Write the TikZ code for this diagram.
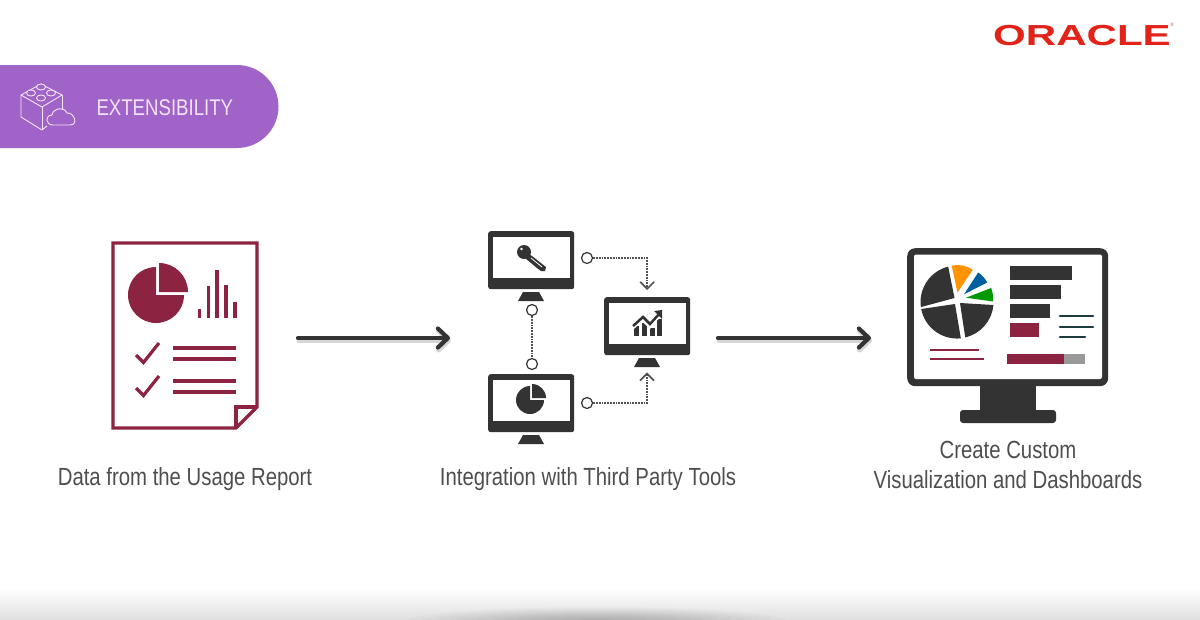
\documentclass[tikz,border=0pt]{standalone}
\usepackage{fontspec}
\usetikzlibrary{arrows.meta, positioning}
\setmainfont[FakeStretch=0.82]{Liberation Sans}
\newfontfamily\logofont[FakeStretch=1.45]{Liberation Sans}
\definecolor{wine}{RGB}{140,35,65}
\definecolor{ink}{RGB}{51,51,51}
\definecolor{caption}{RGB}{78,78,78}
\definecolor{purplebar}{RGB}{160,100,200}
\definecolor{purpletext}{RGB}{243,226,248}
\definecolor{oraclered}{RGB}{226,35,26}
\definecolor{deepteal}{RGB}{28,60,62}
\tikzset{
    label text/.style={text=caption, font=\fontsize{24.8}{30}\selectfont, align=center},
    wine line/.style={draw=wine, line width=3.2pt},
    wine bar/.style={draw=wine, line width=3.5pt},
    teal line/.style={draw=deepteal, line width=2.8pt, line cap=round},
    small dot/.style={circle, draw=ink, fill=white, line width=1.2pt, minimum size=11pt, inner sep=0pt},
    dot link/.style={draw=ink!85, line width=1.8pt, densely dotted},
    dot arrow/.style={dot link, -{Straight Barb[length=7pt, width=14pt, line width=1.7pt]}},
    big arrow/.style={draw=ink, line width=4.2pt, line cap=round, -{Straight Barb[length=10pt, width=19pt, line width=4.2pt, round]}},
    arrow shade/.style={draw=black!16, line width=5pt, line cap=round, -{Straight Barb[length=10pt, width=19pt, line width=5pt, round]}},
    pc body/.style={fill=ink, rounded corners=2.5pt},
}
\begin{document}
\begin{tikzpicture}[x=1pt, y=-1pt]
    \useasboundingbox (0,0) rectangle (1200,619);

    % bottom glow
    \begin{scope}
        \clip (0,0) rectangle (1200,619);
        \shade[top color=white, bottom color=black!12] (0,588) rectangle (1200,619);
        \foreach \r in {1,...,14}
            \fill[black, opacity=.016] (597,621) ellipse ({13.5*\r pt} and {\r pt});
    \end{scope}

    % banner
    \fill[purplebar] (0,65) -- (237,65) arc (-90:90:41.5) -- (0,148) -- cycle;
    \node (bannertext) [text=purpletext, font=\fontsize{22.7}{28}\selectfont, anchor=west] at (93,108) {EXTENSIBILITY};

    % brick and cloud
    \begin{scope}[draw=purpletext, line width=.9pt, line join=round]
        \draw (41,84) -- (62,95) -- (42,107) -- (21,95) -- cycle;
        \draw (21,95) -- (21,117) -- (42,130) -- (47,126);
        \draw (42,107) -- (42,130);
        \draw (62,95) -- (62,110);
        \foreach \x/\y in {41/87, 31/93, 51/93, 41/98}
            \draw[fill=purplebar] (\x,\y) ellipse (4.5pt and 3pt);
        \draw[fill=purplebar] (53,125) .. controls (45,125) and (45,115) .. (52,115)
            .. controls (53,108) and (64,106) .. (67,113)
            .. controls (74,112) and (79,125) .. (70,125) -- cycle;
    \end{scope}

    % logo
    \node (oraclelogo) [text=oraclered, font=\logofont\fontsize{29}{32}\selectfont\bfseries, inner sep=0pt] at (1082,35.5) {ORACLE};
    \node (oraclemark) [text=oraclered, font=\fontsize{5}{6}\selectfont, inner sep=0pt] at (1172,25) {®};

    % report page
    \draw[wine line, line join=miter] (113,243) -- (257,243) -- (257,407) -- (236,428) -- (113,428) -- cycle;
    \draw[wine line, line join=miter] (236,428) -- (236,407) -- (257,407);

    % report pie
    \fill[wine] (156,295) -- (156,267) arc (-90:-360:28) -- cycle;
    \fill[wine] (159,292) -- (159,263) arc (-90:0:29) -- cycle;

    % report bars
    \foreach \x/\y in {199.5/309, 208.5/286, 217/270, 226/285, 235/302}
        \draw[wine bar] (\x,318) -- (\x,\y);

    % report checks and lines
    \foreach \y in {0,33}
        \draw[wine line] (136,355+\y) -- (143.5,362.5+\y) -- (159,343+\y);
    \foreach \y in {348,359,381,392}
        \draw[wine line] (173,\y) -- (236,\y);

    % three small monitors
    \foreach \name/\x/\y in {keypc/488/231, piepc/488/374, chartpc/604/297} {
        \node (\name) [pc body, minimum width=86pt, minimum height=58pt, inner sep=0pt, anchor=north west] at (\x,\y) {};
        \fill[white] (\x+4.5,\y+5.5) rectangle (\x+82,\y+47);
        \node (\name stand) [minimum width=26pt, minimum height=9pt, inner sep=0pt, anchor=north] at (\x+43,\y+61) {};
        \fill[ink] (\x+35,\y+61) -- (\x+51,\y+61) -- (\x+56,\y+70) -- (\x+30,\y+70) -- cycle;
    }

    % key
    \fill[ink] (527,253) -- (532,256) -- (546,267) -- (545,271) -- (541,271) -- (537,268) -- (525,258) -- cycle;
    \draw[white, line width=.8pt] (531,258) -- (542,267);
    \fill[ink, even odd rule] (524,252) circle (7pt) (521.5,249) circle (1.6pt);

    % pie
    \fill[ink] (530,386) arc (-90:-360:14) -- (530,400) -- cycle;
    \fill[ink] (532,385) -- (532,398) -- (546,398) arc (0:-90:14) -- cycle;

    % trend
    \foreach \x/\t in {636/326, 644.5/323, 652/328, 659/319}
        \fill[ink] (\x-2.5,\t) rectangle (\x+2.5,336);
    \draw[white, line width=2.5pt] (632,329) -- (642,320) -- (650,327) -- (662,313);
    \draw[ink, line width=2.5pt] (633,326) -- (643,317) -- (650,324) -- (660,313);
    \fill[ink] (662,310) -- (662,319) -- (654,311) -- cycle;

    % dots
    \node (keydot) [small dot] at (587,258) {};
    \node (piedot) [small dot] at (587,403) {};
    \node (upperdot) [small dot] at (532,310) {};
    \node (lowerdot) [small dot] at (532,364) {};

    % links
    \draw[dot arrow, shorten >=7pt] (keydot) -| (chartpc.north);
    \draw[dot arrow, shorten >=5pt] (piedot) -| (chartpcstand.south);
    \draw[dot link] (upperdot) -- (lowerdot);

    % dashboard monitor
    \node (screenpc) [fill=ink, rounded corners=8pt, minimum width=201pt, minimum height=138pt, inner sep=0pt, anchor=north west] at (907,248) {};
    \fill[white, rounded corners=2pt] (914,254.5) rectangle (1102,379);
    \fill[ink] (980,386) rectangle (1036,411);
    \fill[ink, rounded corners=3pt] (960,410) rectangle (1056,423);

    % dashboard pie
    \fill[ink] (954.5,298) -- (948.2,266.6) arc (-104:-188:36.5) -- cycle;
    \fill[ink] (955,304) -- (921.2,309) arc (-191:-276:36.5) -- cycle;
    \fill[ink] (960,303) -- (993.4,305) arc (5:77:36.5) -- cycle;
    \fill[orange!85!yellow] (957.5,292.5) -- (951.7,265.6) arc (-102:-56:27.5) -- cycle;
    \fill[teal!75!blue] (964,294.3) -- (978.2,272.5) arc (-57:-27:26) -- cycle;
    \fill[green!60!black] (966,297.7) -- (991.2,288) arc (-21:8:27) -- cycle;

    % dashboard bars
    \foreach \r/\y in {1072/266, 1061/285, 1050/304}
        \fill[ink] (1010,\y) rectangle (\r,\y+14);
    \fill[wine] (1010,323) rectangle (1039,337);
    \draw[teal line] (1060,316) -- (1093,316);
    \draw[teal line] (1060,327) -- (1093,327);
    \draw[teal line] (1060,337) -- (1085,337);
    \draw[wine, line width=2.6pt] (930,350) -- (979,350);
    \draw[wine, line width=2.6pt] (930,359) -- (984,359);
    \fill[black!40] (1064,354) rectangle (1085,364);
    \fill[wine] (1007,354) rectangle (1064,364);

    % big arrows
    \coordinate (firststart) at (298,338);
    \coordinate (firstend) at (450,338);
    \coordinate (secondstart) at (718,338);
    \coordinate (secondend) at (871,338);
    \draw[arrow shade, transform canvas={xshift=1pt, yshift=-2.5pt}] (firststart) -- (firstend);
    \draw[arrow shade, transform canvas={xshift=1pt, yshift=-2.5pt}] (secondstart) -- (secondend);
    \draw[big arrow] (firststart) -- (firstend);
    \draw[big arrow] (secondstart) -- (secondend);

    % captions
    \node (reportlabel) [label text] at (185,479.5) {Data from the Usage Report};
    \node (toolslabel) [label text] at (588,479.5) {Integration with Third Party Tools};
    \node (dashlabel) [label text] at (1008,465) {Create Custom\\Visualization and Dashboards};
\end{tikzpicture}
\end{document}
